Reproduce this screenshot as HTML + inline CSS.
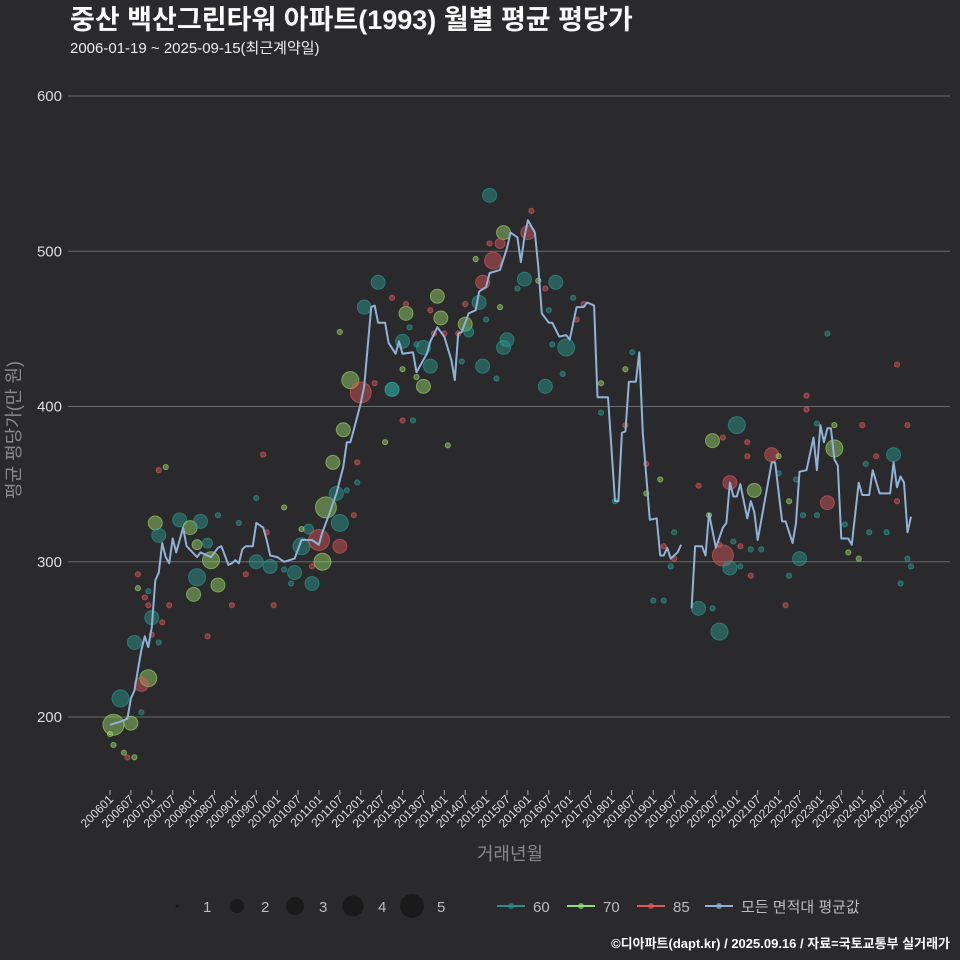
<!DOCTYPE html>
<html><head><meta charset="utf-8">
<style>
html,body{margin:0;padding:0;background:#2a2a2c;}
svg{display:block;font-family:"Liberation Sans","Noto Sans CJK KR",sans-serif;}
</style></head>
<body>
<svg id="chart" width="960" height="960" viewBox="0 0 960 960" xmlns="http://www.w3.org/2000/svg">
<rect width="960" height="960" fill="#2a2a2c"/>
<text x="70" y="29" fill="#fff" font-size="27" font-weight="bold">중산 백산그린타워 아파트(1993) 월별 평균 평당가</text>
<text x="70" y="53" fill="#eee" font-size="15">2006-01-19 ~ 2025-09-15(최근계약일)</text>
<g id="grid"></g>
<g id="yticks"></g>
<g id="xticks"></g>
<g id="points"></g>
<g id="line"></g>
<text transform="translate(20,430) rotate(-90)" text-anchor="middle" fill="#888" font-size="18">평균 평당가(만 원)</text>
<text x="510" y="860" text-anchor="middle" fill="#888" font-size="18">거래년월</text>
<g id="legend"></g>
<text x="950" y="948" text-anchor="end" fill="#fff" font-size="13" font-weight="bold">©디아파트(dapt.kr) / 2025.09.16 / 자료=국토교통부 실거래가</text>
</svg>
<script>
// month index 0 = 2006-01
const yTicks = [200, 300, 400, 500, 600];
const xTickLabels = ["200601","200607","200701","200707","200801","200807","200901","200907","201001","201007","201101","201107","201201","201207","201301","201307","201401","201407","201501","201507","201601","201607","201701","201707","201801","201807","201901","201907","202001","202007","202101","202107","202201","202207","202301","202307","202401","202407","202501","202507"];
const lineMonths = [0,3,5,6,7,9,10,11,12,13,14,15,16,17,18,19,21,22,25,26,29,31,32,34,35,36,37,38,39,41,42,44,45,46,48,50,53,55,58,60,61,63,65,67,68,69,70,72,73,75,76,77,79,80,82,83,84,87,88,91,92,94,96,98,99,100,101,103,105,106,108,109,112,114,115,117,118,119,120,122,123,124,126,127,129,131,132,134,135,136,137,139,140,143,145,146,147,148,149,151,152,153,155,157,158,159,160,161,163,164,165,167,168,170,171,172,174,176,177,178,179,180,181,183,184,185,186,188,190,191,193,194,196,197,198,200,202,203,204,205,206,207,208,209,210,212,213,215,216,218,219,221,224,225,226,227,228,229,230];
const lineValues = [195,197,199,212,217,243,252,245,258,288,293,312,303,299,315,306,322,310,303,306,303,309,310,298,299,301,299,308,310,310,325,322,314,304,303,300,302,314,314,311,319,331,344,361,377,377,385,402,413,464,465,454,454,441,434,442,434,435,422,434,442,451,445,430,417,447,448,460,462,474,477,486,488,502,512,509,493,509,520,512,490,460,454,454,445,446,443,464,464,464,467,465,406,406,339,339,383,384,416,416,435,383,327,328,304,304,309,302,306,311,null,270,310,310,304,331,309,322,325,351,342,342,350,328,339,332,314,339,364,364,326,326,312,325,358,359,380,359,388,377,386,386,366,362,315,315,311,351,343,343,359,344,344,364,348,355,351,319,329];
const ptMonths = [3,1,6,7,11,9,12,13,14,20,23,26,25,28,25,24,31,29,42,46,53,55,57,58,62,60,61,66,66,65,64,67,69,72,73,81,77,8,8,10,11,11,15,14,12,9,1,4,5,7,0,14,16,17,28,35,39,47,44,42,50,31,37,58,66,76,79,81,71,71,68,70,45,52,50,55,109,113,120,110,107,112,119,128,106,94,85,95,102,114,113,131,90,92,107,90,81,125,84,103,121,109,105,125,123,117,112,102,108,85,92,96,93,100,88,86,84,88,101,111,127,130,133,134,136,126,141,148,150,148,141,84,87,97,154,158,154,162,159,162,161,156,159,145,180,173,190,178,185,208,225,206,176,178,198,169,175,206,226,200,200,203,208,216,229,176,183,183,192,192,220,217,197,169,195,226,172,199,203,211,218,223,179,175,181,184,187,212,215,229,230,181,184,195,227,194,173];
const ptValues = [212,195,196,248,225,221,264,325,317,327,322,326,311,312,290,279,285,301,300,297,293,310,321,286,335,314,300,325,310,344,364,385,417,409,464,411,480,292,283,277,272,281,261,248,253,203,182,177,174,174,189,359,361,272,252,272,292,272,369,341,335,330,325,297,448,415,377,470,364,351,346,330,319,286,295,321,536,512,512,494,480,505,482,480,467,471,460,457,453,443,438,438,438,426,426,413,411,413,442,448,526,505,495,476,481,476,464,466,456,466,462,447,447,447,440,451,424,419,429,418,440,421,470,456,466,462,415,424,435,388,396,391,391,375,363,353,344,319,310,302,297,275,275,339,388,378,369,351,346,373,369,338,304,296,302,270,255,447,427,407,398,389,388,388,388,380,377,368,368,357,368,363,353,349,339,339,330,330,330,324,319,319,313,311,310,308,308,306,302,302,297,297,291,291,286,272,270];
const ptCounts = [4,5,3,3,4,3,3,3,3,3,3,3,2,2,4,3,3,4,3,3,3,4,2,3,5,5,4,4,3,3,3,3,4,5,3,3,3,1,1,1,1,1,1,1,1,1,1,1,1,1,1,1,1,1,1,1,1,1,1,1,1,1,1,1,1,1,1,1,1,1,1,1,1,1,1,1,3,3,3,4,3,2,3,3,3,3,3,3,3,3,3,4,3,3,3,3,3,3,3,2,1,1,1,1,1,1,1,1,1,1,1,1,1,1,1,1,1,1,1,1,1,1,1,1,1,1,1,1,1,1,1,1,1,1,1,1,1,1,1,1,1,1,1,1,4,3,3,3,3,4,3,3,5,3,3,3,4,1,1,1,1,1,1,1,1,1,1,1,1,1,1,1,1,1,1,1,1,1,1,1,1,1,1,1,1,1,1,1,1,1,1,1,1,1,1,1,1];
const ptTypes = ["60","70","70","60","70","85","60","70","60","60","70","60","70","60","60","70","70","70","60","60","60","60","60","60","70","85","70","60","85","60","70","70","70","85","60","60","60","85","70","85","85","60","85","60","85","60","70","70","85","70","70","85","70","85","85","85","85","85","85","60","70","60","60","85","70","85","70","85","85","60","60","85","85","60","60","70","60","70","85","85","85","85","60","60","60","70","70","70","70","60","60","60","60","60","60","70","60","60","60","60","85","85","70","85","70","60","70","85","60","85","85","85","85","85","60","60","70","70","60","60","60","60","60","85","85","60","70","70","60","85","60","85","60","70","85","70","70","60","85","85","60","60","60","60","60","70","85","85","70","70","60","85","85","60","60","60","60","60","85","85","85","60","70","85","85","85","85","85","70","60","85","60","60","85","70","85","70","60","60","60","60","60","60","85","85","60","60","70","70","60","60","60","85","60","60","85","60"];

const NS = "http://www.w3.org/2000/svg";
const X0 = 110, X1 = 904, MMAX = 228;
const xScale = m => X0 + (X1 - X0) * m / MMAX;
const yScale = v => 717 - (v - 200) * (717 - 96) / 400;
const colors = {"60":"#2a9d95","70":"#9edc6a","85":"#e0585b"};
const radius = {1:2.6,2:5,3:7,4:8.5,5:10.5};
function mk(tag, attrs, parent){const e=document.createElementNS(NS,tag);for(const k in attrs)e.setAttribute(k,attrs[k]);parent.appendChild(e);return e;}

const grid=document.getElementById('grid'), yt=document.getElementById('yticks');
yTicks.forEach(v=>{
  const l=mk('line',{x1:68,x2:950,y1:yScale(v),y2:yScale(v),stroke:'#6a6a6a','stroke-width':1},grid);
  
  
  const t=mk('text',{x:62,y:yScale(v)+5,'text-anchor':'end',fill:'#ddd','font-size':15},yt);
  t.textContent=v;
  
  
});
const xt=document.getElementById('xticks');
xTickLabels.forEach((lab,i)=>{
  const x=xScale(i*6);
  const tk=mk('line',{x1:x,x2:x,y1:790,y2:795,stroke:'#aaa','stroke-width':1},xt);
  
  
  const t=mk('text',{transform:`translate(${x+4},${800}) rotate(-45)`,'text-anchor':'end',fill:'#ddd','font-size':12},xt);
  t.textContent=lab;
  
  
});
const pg=document.getElementById('points');
ptMonths.forEach((m,i)=>{
  const c=colors[ptTypes[i]];
  const p=mk('circle',{cx:xScale(m),cy:yScale(ptValues[i]),r:radius[ptCounts[i]],fill:c,'fill-opacity':0.45,stroke:c,'stroke-opacity':0.6,'stroke-width':1},pg);
  
  
});
const lg=document.getElementById('line');
let segs=[],cur=[];
lineMonths.forEach((m,i)=>{const v=lineValues[i];if(v===null){if(cur.length)segs.push(cur);cur=[];}else cur.push(xScale(m).toFixed(1)+','+yScale(v).toFixed(1));});
if(cur.length)segs.push(cur);
segs.forEach(s=>{
  const pl=mk('polyline',{points:s.join(' '),fill:'none',stroke:'#8fb2d8','stroke-width':2,'stroke-linejoin':'round'},lg);
  
  
});
const leg=document.getElementById('legend');
const sizeLegX=[177,237,295,353,412], sizeLegR=[1.5,7,9,10.5,12], sizeLabX=[203,261,319,378,437];
sizeLegX.forEach((x,i)=>{
  const c=mk('circle',{cx:x,cy:906,r:sizeLegR[i],fill:'#1a1a1a'},leg);
  
  
  const t=mk('text',{x:sizeLabX[i],y:912,fill:'#bbb','font-size':15},leg);
  t.textContent=String(i+1);
  
  
});
const colLeg=[[497,'60','#2a8f8c'],[567,'70','#8fe070'],[637,'85','#e0585b'],[705,'모든 면적대 평균값','#8fb2d8']];
colLeg.forEach(([x,lab,c])=>{
  const l=mk('line',{x1:x,x2:x+28,y1:906,y2:906,stroke:c,'stroke-width':2},leg);
  
  
  const d=mk('circle',{cx:x+14,cy:906,r:3,fill:c,'fill-opacity':0.7},leg);
  
  
  const t=mk('text',{x:x+36,y:912,fill:'#bbb','font-size':15},leg);
  t.textContent=lab;
  
  
});
</script>
</body></html>
